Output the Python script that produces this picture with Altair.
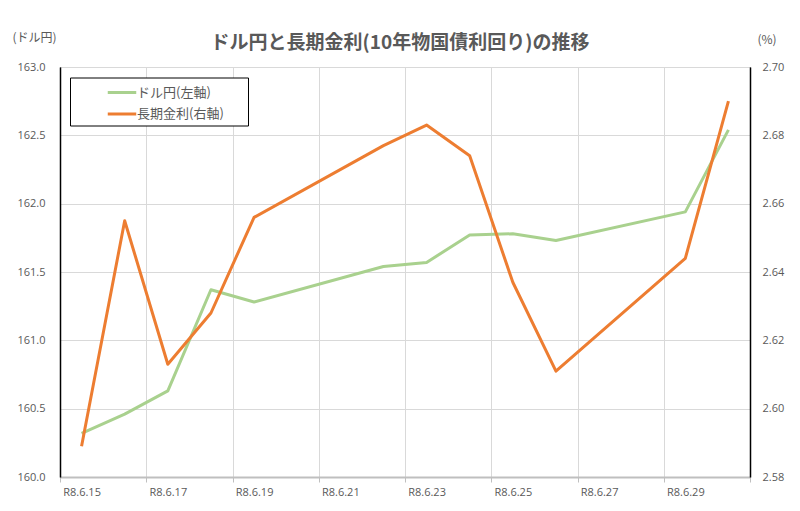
import altair as alt
import pandas as pd

# --- data ---
days = [15, 16, 17, 18, 19, 22, 23, 24, 25, 26, 29, 30]
usdjpy = [160.32, 160.46, 160.63, 161.37, 161.28, 161.54, 161.57, 161.77, 161.78, 161.73, 161.94, 162.54]
jgb10y = [2.589, 2.655, 2.613, 2.628, 2.656, 2.677, 2.683, 2.674, 2.637, 2.611, 2.644, 2.690]
series = ["ドル円(左軸)", "長期金利(右軸)"]
colors = ["#a9d18e", "#ed7d31"]
x_grid = [14.5, 16.5, 18.5, 20.5, 22.5, 24.5, 26.5, 28.5, 30.5]
y_left_ticks = [160.0, 160.5, 161.0, 161.5, 162.0, 162.5, 163.0]
y_right_ticks = [2.58, 2.60, 2.62, 2.64, 2.66, 2.68, 2.70]
title_text = "ドル円と長期金利(10年物国債利回り)の推移"

df1 = pd.DataFrame({"day": days, "value": usdjpy, "series": series[0]})
df2 = pd.DataFrame({"day": days, "value": jgb10y, "series": series[1]})

JP = "Noto Sans CJK JP"
NUM = "Open Sans"
GREY = "#595959"

x = alt.X(
    "day:Q",
    scale=alt.Scale(domain=[14.5, 30.5], nice=False, zero=False),
    axis=alt.Axis(
        values=x_grid,
        labelExpr="datum.value < 30 ? 'R8.6.' + (datum.value + 0.5) : ''",
        labelOffset=21.56,
        title=None,
        grid=True,
        gridColor="#d9d9d9",
        tickColor="#bfbfbf",
        tickSize=5,
        domainColor="#bfbfbf",
        domainWidth=2,
        labelColor=GREY,
        labelFont=NUM,
        labelFontSize=11,
        labelPadding=4,
        labelFlush=False,
        labelOverlap=False,
        labelBound=False,
    ),
)

color = alt.Color(
    "series:N",
    scale=alt.Scale(domain=series, range=colors),
    legend=alt.Legend(
        title=None,
        orient="none",
        legendX=10,
        legendY=10.5,
        direction="vertical",
        fillColor="white",
        strokeColor="black",
        padding=4,
        symbolType="M-1.5,0H1.5",
        symbolSize=361,
        symbolStrokeWidth=3,
        symbolOffset=37,
        labelOffset=4,
        rowPadding=3.5,
        labelFont=JP,
        labelFontSize=13,
        labelColor=GREY,
        labelExpr="datum.label + '\u2800\u2800'",
    ),
)

y_left = alt.Y(
    "value:Q",
    scale=alt.Scale(domain=[160, 163], nice=False, zero=False),
    axis=alt.Axis(
        values=y_left_ticks,
        format=".1f",
        title="(ドル円)",
        titleAngle=0,
        titleX=-48,
        titleY=-30,
        titleAlign="left",
        titleBaseline="middle",
        titleFont=JP,
        titleFontSize=12,
        titleFontWeight="normal",
        titleColor=GREY,
        grid=True,
        gridColor="#d9d9d9",
        domainColor="black",
        domainWidth=1.5,
        ticks=False,
        labelPadding=15,
        labelColor=GREY,
        labelFont=NUM,
        labelFontSize=11,
        labelFlush=False,
    ),
)

y_right = alt.Y(
    "value:Q",
    scale=alt.Scale(domain=[2.58, 2.70], nice=False, zero=False),
    axis=alt.Axis(
        orient="right",
        values=y_right_ticks,
        format=".2f",
        title="(%)",
        titleAngle=0,
        titleX=7,
        titleY=-28,
        titleAlign="left",
        titleBaseline="middle",
        titleFont=JP,
        titleFontSize=12,
        titleFontWeight="normal",
        titleColor=GREY,
        grid=False,
        domainColor="black",
        domainWidth=1.5,
        ticks=False,
        labelPadding=12,
        labelColor=GREY,
        labelFont=NUM,
        labelFontSize=11,
        labelFlush=False,
    ),
)

line1 = alt.Chart(df1).mark_line(strokeWidth=3, strokeJoin="round").encode(x=x, y=y_left, color=color)
line2 = alt.Chart(df2).mark_line(strokeWidth=3, strokeJoin="round").encode(x=x, y=y_right, color=color)

chart = (
    alt.layer(line1, line2)
    .resolve_scale(y="independent")
    .properties(
        width=690,
        height=410,
        autosize="none",
        padding={"left": 60, "top": 67, "right": 50, "bottom": 34},
        title=alt.Title(
            title_text,
            font=JP,
            fontSize=19,
            fontWeight="bold",
            color=GREY,
            anchor="middle",
            offset=-22,
            dx=-5,
        ),
        background="white",
    )
    .configure_view(stroke="black", strokeWidth=1)
)

chart.save("out.html", embed_options={"renderer": "svg", "actions": False})
